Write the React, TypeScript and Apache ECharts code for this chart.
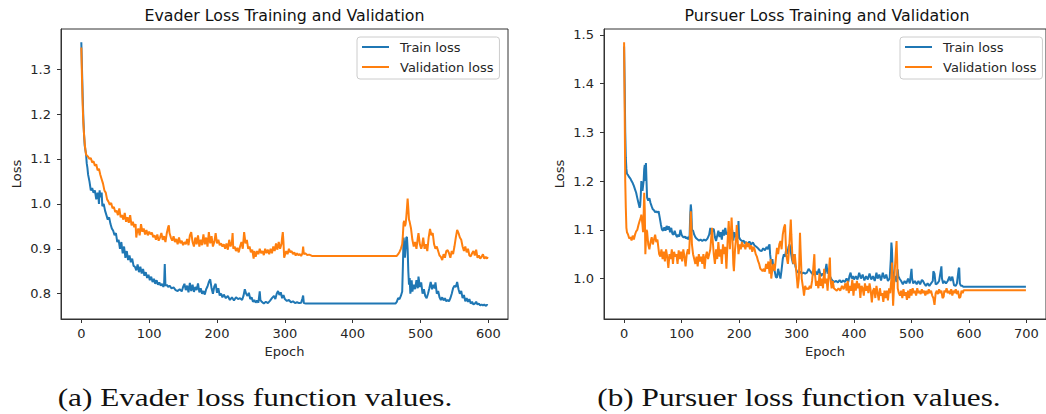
import React, { useEffect, useRef } from "react";
import * as echarts from "echarts";

// ---------------- DATA ----------------
const E_XTICKS = [0, 100, 200, 300, 400, 500, 600];
const E_YTICKS = [0.8, 0.9, 1.0, 1.1, 1.2, 1.3];
const P_XTICKS = [0, 100, 200, 300, 400, 500, 600, 700];
const P_YTICKS = [1.0, 1.1, 1.2, 1.3, 1.4, 1.5];
const SERIES_NAMES = ["Train loss", "Validation loss"];
const TITLES = ["Evader Loss Training and Validation", "Pursuer Loss Training and Validation"];
const CAPTIONS = ["(a) Evader loss function values.", "(b) Pursuer loss function values."];

const E_TRAIN: [number, number][] = [
  [0,1.36],[1,1.30],[2,1.24],[3,1.19],[4,1.155],[5,1.13],[6,1.12],[7,1.11],[8,1.09],[9,1.08],[10,1.065],[12,1.05],[14,1.03],[16,1.035],[18,1.025],[20,1.03],[22,1.01],[24,1.025],[25,1.02],[26,1.0],[27,1.03],[28,1.015],[30,1.025],[31,0.995],[33,1.0],[35,0.985],[37,0.975],[39,0.965],[41,0.97],[43,0.955],[45,0.945],[47,0.94],[49,0.93],[51,0.935],[53,0.915],[55,0.92],[57,0.9],[59,0.915],[61,0.89],[63,0.905],[65,0.88],[67,0.895],[69,0.875],[71,0.885],[73,0.87],[75,0.878],[77,0.862],[79,0.86],[81,0.852],[83,0.865],[85,0.848],[87,0.86],[89,0.845],[91,0.855],[93,0.84],[95,0.848],[97,0.835],[99,0.842],[101,0.83],[103,0.838],[105,0.826],[107,0.833],[109,0.822],[111,0.83],[113,0.82],[115,0.825],[117,0.818],[119,0.822],[121,0.815],[122,0.82],[123,0.866],[124,0.818],[126,0.82],[128,0.815],[130,0.818],[133,0.812],[136,0.814],[139,0.808],[142,0.806],[145,0.81],[148,0.805],[150,0.815],[152,0.822],[154,0.808],[156,0.818],[158,0.803],[160,0.824],[162,0.806],[164,0.82],[166,0.804],[168,0.815],[170,0.808],[172,0.823],[174,0.803],[176,0.812],[178,0.8],[180,0.806],[182,0.798],[184,0.81],[186,0.816],[188,0.826],[190,0.832],[192,0.812],[194,0.8],[196,0.816],[198,0.822],[200,0.802],[202,0.812],[204,0.796],[206,0.8],[208,0.792],[210,0.798],[213,0.79],[216,0.795],[219,0.786],[222,0.792],[225,0.785],[228,0.792],[231,0.788],[234,0.79],[237,0.786],[239,0.795],[241,0.81],[243,0.8],[245,0.795],[247,0.802],[249,0.788],[251,0.792],[253,0.782],[255,0.786],[257,0.78],[259,0.785],[261,0.78],[263,0.805],[264,0.786],[266,0.782],[269,0.778],[272,0.782],[275,0.779],[278,0.784],[281,0.79],[284,0.795],[286,0.788],[288,0.8],[290,0.806],[292,0.797],[294,0.803],[296,0.79],[298,0.797],[300,0.788],[303,0.784],[306,0.786],[309,0.781],[312,0.783],[315,0.779],[318,0.781],[321,0.779],[324,0.78],[326,0.79],[327,0.796],[328,0.779],[331,0.778],[335,0.778],[463,0.778],[465,0.782],[467,0.79],[469,0.788],[471,0.795],[473,0.805],[474,0.86],[475,0.925],[476,0.91],[477,0.88],[478,0.9],[479,0.925],[480,0.926],[481,0.9],[482,0.85],[483,0.82],[484,0.835],[485,0.8],[486,0.81],[487,0.83],[488,0.805],[490,0.82],[492,0.81],[494,0.83],[496,0.812],[497,0.838],[499,0.815],[501,0.825],[503,0.8],[505,0.81],[507,0.795],[509,0.79],[511,0.8],[513,0.812],[515,0.826],[517,0.81],[519,0.82],[521,0.812],[522,0.825],[524,0.8],[526,0.806],[528,0.792],[530,0.786],[532,0.792],[534,0.785],[536,0.79],[538,0.783],[540,0.786],[542,0.783],[544,0.79],[546,0.8],[548,0.812],[550,0.818],[552,0.815],[554,0.826],[556,0.81],[558,0.8],[560,0.806],[562,0.79],[564,0.797],[566,0.783],[568,0.79],[570,0.782],[572,0.788],[574,0.778],[576,0.782],[578,0.776],[580,0.778],[582,0.782],[584,0.776],[586,0.778],[588,0.774],[590,0.776],[592,0.774],[594,0.776],[596,0.773],[598,0.775],[599,0.774]
];

const E_VAL: [number, number][] = [
  [0,1.348],[1,1.28],[2,1.22],[3,1.18],[4,1.155],[5,1.135],[6,1.12],[7,1.11],[8,1.108],[10,1.105],[12,1.1],[14,1.102],[16,1.092],[18,1.095],[20,1.085],[22,1.088],[24,1.075],[26,1.078],[28,1.065],[30,1.055],[32,1.045],[34,1.03],[36,1.025],[38,1.01],[40,1.005],[42,0.998],[44,1.002],[46,0.99],[48,0.993],[50,0.982],[52,0.985],[54,0.975],[56,0.99],[58,0.97],[60,0.975],[62,0.965],[64,0.98],[66,0.96],[68,0.97],[70,0.958],[72,0.975],[74,0.952],[76,0.96],[78,0.948],[80,0.955],[81,0.925],[82,0.935],[84,0.945],[86,0.93],[88,0.955],[90,0.938],[92,0.945],[94,0.932],[96,0.942],[98,0.93],[100,0.938],[102,0.932],[104,0.936],[106,0.926],[108,0.93],[110,0.92],[112,0.932],[114,0.918],[116,0.925],[118,0.935],[120,0.92],[122,0.928],[124,0.915],[126,0.935],[128,0.948],[129,0.952],[130,0.935],[132,0.925],[134,0.918],[136,0.928],[138,0.915],[140,0.922],[142,0.91],[144,0.925],[146,0.912],[148,0.918],[150,0.908],[152,0.915],[154,0.91],[156,0.922],[158,0.908],[160,0.93],[162,0.937],[164,0.915],[166,0.905],[168,0.925],[170,0.91],[172,0.93],[174,0.905],[176,0.92],[178,0.908],[180,0.932],[182,0.91],[184,0.925],[186,0.905],[188,0.937],[190,0.912],[192,0.928],[194,0.905],[196,0.915],[198,0.935],[200,0.912],[202,0.92],[204,0.908],[206,0.912],[208,0.905],[210,0.91],[212,0.9],[214,0.912],[216,0.898],[218,0.92],[220,0.905],[222,0.915],[223,0.935],[224,0.9],[226,0.905],[228,0.895],[230,0.902],[232,0.892],[234,0.905],[236,0.915],[238,0.9],[240,0.937],[242,0.912],[244,0.92],[246,0.9],[248,0.905],[250,0.892],[252,0.898],[254,0.878],[255,0.895],[257,0.882],[259,0.895],[261,0.888],[263,0.9],[265,0.89],[267,0.895],[269,0.886],[271,0.9],[273,0.89],[275,0.898],[277,0.888],[279,0.9],[281,0.89],[283,0.905],[285,0.895],[287,0.912],[289,0.898],[291,0.915],[293,0.9],[295,0.91],[296,0.925],[297,0.937],[298,0.915],[299,0.88],[300,0.885],[302,0.895],[304,0.888],[306,0.9],[308,0.892],[310,0.895],[312,0.888],[314,0.892],[316,0.885],[318,0.89],[320,0.886],[322,0.888],[324,0.884],[326,0.89],[327,0.905],[328,0.888],[330,0.89],[333,0.886],[336,0.887],[340,0.884],[465,0.884],[467,0.888],[469,0.893],[471,0.9],[473,0.91],[474,0.93],[475,0.958],[476,0.962],[477,0.95],[478,0.955],[479,0.97],[480,0.99],[481,1.012],[482,0.99],[483,0.965],[484,0.96],[486,0.945],[488,0.92],[490,0.905],[492,0.915],[494,0.9],[496,0.925],[497,0.935],[499,0.91],[501,0.9],[502,0.905],[504,0.925],[506,0.9],[508,0.91],[510,0.895],[512,0.925],[514,0.944],[516,0.93],[518,0.935],[520,0.91],[522,0.9],[524,0.905],[526,0.895],[528,0.885],[530,0.882],[532,0.875],[534,0.888],[536,0.88],[538,0.895],[540,0.897],[542,0.89],[544,0.88],[546,0.895],[548,0.888],[550,0.905],[552,0.925],[554,0.942],[556,0.935],[558,0.925],[560,0.92],[562,0.905],[564,0.895],[566,0.905],[568,0.892],[570,0.9],[572,0.885],[574,0.883],[576,0.89],[578,0.895],[580,0.885],[582,0.898],[584,0.88],[586,0.885],[588,0.878],[590,0.882],[592,0.888],[594,0.878],[596,0.882],[598,0.878],[599,0.882]
];

const P_TRAIN: [number, number][] = [
  [0,1.476],[1,1.40],[2,1.30],[3,1.248],[4,1.225],[5,1.215],[7,1.212],[9,1.208],[11,1.205],[13,1.2],[15,1.196],[17,1.19],[19,1.183],[21,1.176],[23,1.165],[25,1.155],[27,1.145],[28,1.15],[29,1.17],[30,1.2],[31,1.19],[32,1.18],[33,1.19],[34,1.2],[35,1.225],[36,1.233],[37,1.2],[38,1.237],[39,1.2],[40,1.166],[42,1.16],[44,1.165],[46,1.155],[48,1.148],[50,1.142],[52,1.14],[54,1.136],[56,1.138],[58,1.135],[60,1.138],[62,1.125],[64,1.111],[66,1.1],[68,1.098],[70,1.105],[72,1.098],[74,1.108],[76,1.1],[78,1.107],[80,1.095],[82,1.104],[84,1.092],[86,1.09],[88,1.098],[90,1.09],[92,1.085],[94,1.09],[96,1.086],[98,1.1],[100,1.09],[102,1.086],[104,1.084],[106,1.086],[108,1.082],[110,1.085],[112,1.08],[114,1.088],[115,1.13],[116,1.152],[117,1.14],[118,1.1],[120,1.098],[122,1.09],[124,1.085],[126,1.082],[128,1.08],[130,1.078],[133,1.08],[136,1.077],[139,1.08],[142,1.078],[145,1.082],[148,1.09],[150,1.104],[152,1.09],[154,1.1],[156,1.102],[158,1.085],[160,1.077],[162,1.088],[164,1.098],[166,1.085],[168,1.095],[170,1.08],[172,1.1],[174,1.088],[176,1.104],[178,1.09],[180,1.095],[182,1.08],[184,1.098],[186,1.09],[188,1.1],[190,1.078],[192,1.095],[194,1.085],[196,1.09],[198,1.082],[199,1.118],[200,1.085],[202,1.08],[204,1.078],[206,1.076],[208,1.078],[210,1.072],[212,1.075],[215,1.07],[218,1.076],[221,1.07],[224,1.074],[227,1.068],[230,1.065],[233,1.062],[236,1.058],[239,1.056],[242,1.062],[245,1.058],[248,1.065],[250,1.06],[252,1.068],[253,1.07],[254,1.05],[256,1.03],[258,1.04],[260,1.02],[262,1.015],[264,1.003],[266,1.002],[268,1.02],[270,1.01],[272,1.0],[274,1.018],[276,1.04],[278,1.05],[280,1.045],[282,1.06],[284,1.05],[286,1.065],[288,1.07],[290,1.055],[292,1.04],[294,1.03],[296,1.05],[298,1.025],[300,1.016],[303,1.012],[306,1.014],[309,1.01],[312,1.012],[315,1.01],[318,1.012],[321,1.02],[324,1.015],[327,1.01],[330,1.008],[333,1.015],[336,1.008],[339,1.02],[342,1.005],[345,1.01],[348,1.005],[350,1.015],[352,1.03],[354,1.01],[356,1.02],[358,1.005],[360,1.0],[363,0.995],[366,0.993],[369,0.995],[372,0.992],[375,0.997],[378,0.992],[381,0.996],[384,0.993],[387,1.0],[390,0.993],[392,1.005],[394,1.012],[396,1.0],[398,1.005],[400,0.998],[403,1.005],[406,0.998],[409,1.012],[412,1.0],[415,1.008],[418,0.996],[421,1.005],[424,0.998],[427,1.01],[430,0.998],[433,1.005],[436,0.995],[439,1.012],[441,1.0],[444,1.008],[447,0.996],[450,1.012],[453,1.0],[456,1.008],[459,0.995],[462,1.0],[464,1.04],[465,1.074],[466,1.06],[467,1.02],[469,1.0],[471,1.005],[474,0.993],[476,1.019],[477,1.005],[479,1.0],[482,0.995],[485,0.988],[488,0.995],[491,0.99],[494,1.0],[497,0.99],[499,1.01],[500,1.02],[501,1.0],[503,0.99],[506,0.995],[509,0.988],[512,0.995],[515,0.988],[518,0.997],[520,0.995],[522,0.99],[525,0.985],[528,0.99],[531,0.985],[534,0.99],[537,0.995],[538,1.015],[540,1.01],[542,0.988],[545,0.99],[548,0.995],[550,1.01],[552,1.025],[553,1.0],[555,0.99],[557,0.995],[560,0.99],[563,0.995],[566,1.004],[568,0.995],[571,1.004],[574,0.986],[577,0.985],[579,0.99],[582,1.02],[583,1.022],[584,0.99],[586,0.985],[588,0.985],[590,0.983],[699,0.983]
];

const P_VAL: [number, number][] = [
  [0,1.485],[1,1.35],[2,1.2],[3,1.145],[4,1.104],[5,1.095],[7,1.09],[9,1.082],[11,1.085],[13,1.078],[15,1.088],[17,1.08],[19,1.09],[21,1.097],[23,1.1],[25,1.11],[27,1.118],[29,1.125],[30,1.131],[32,1.11],[33,1.095],[34,1.13],[35,1.176],[36,1.14],[37,1.05],[38,1.08],[39,1.1],[40,1.097],[42,1.07],[44,1.06],[46,1.075],[48,1.085],[50,1.07],[52,1.08],[54,1.09],[56,1.075],[58,1.08],[60,1.06],[61,1.05],[63,1.045],[65,1.06],[67,1.04],[69,1.055],[71,1.035],[73,1.06],[75,1.045],[77,1.022],[79,1.05],[81,1.04],[83,1.06],[85,1.03],[87,1.055],[89,1.045],[91,1.05],[93,1.03],[95,1.058],[97,1.04],[99,1.055],[101,1.035],[103,1.06],[105,1.045],[107,1.025],[109,1.05],[111,1.06],[113,1.05],[115,1.1],[116,1.138],[117,1.11],[118,1.07],[120,1.05],[122,1.04],[124,1.03],[126,1.045],[128,1.025],[130,1.05],[132,1.035],[134,1.045],[136,1.03],[138,1.05],[140,1.02],[142,1.045],[144,1.055],[146,1.04],[148,1.05],[150,1.06],[152,1.09],[153,1.104],[154,1.08],[156,1.05],[158,1.03],[160,1.06],[162,1.04],[164,1.075],[166,1.045],[168,1.06],[170,1.03],[172,1.07],[174,1.05],[176,1.065],[178,1.02],[180,1.075],[182,1.118],[184,1.06],[186,1.1],[187,1.125],[188,1.1],[190,1.03],[191,1.015],[193,1.06],[195,1.085],[196,1.11],[198,1.07],[199,1.05],[201,1.07],[203,1.06],[205,1.075],[207,1.065],[209,1.07],[211,1.06],[213,1.075],[215,1.065],[217,1.072],[219,1.06],[221,1.068],[223,1.055],[225,1.065],[227,1.06],[229,1.05],[231,1.045],[233,1.036],[235,1.03],[237,1.02],[239,1.018],[241,1.015],[243,1.02],[245,1.014],[247,1.03],[249,1.02],[251,1.035],[253,1.01],[255,1.04],[256,1.0],[258,1.02],[260,1.03],[262,1.016],[264,1.04],[266,1.063],[268,1.05],[270,1.07],[272,1.077],[274,1.06],[276,1.09],[278,1.104],[280,1.111],[281,1.08],[282,1.05],[284,1.036],[285,1.03],[287,1.06],[289,1.1],[290,1.121],[291,1.09],[293,1.04],[295,1.03],[297,1.05],[299,1.022],[301,0.995],[302,0.98],[304,1.0],[306,1.094],[307,1.06],[309,1.0],[312,0.975],[313,0.965],[315,0.985],[317,0.978],[319,0.98],[321,0.978],[323,0.985],[325,0.98],[327,0.995],[329,1.02],[331,1.05],[332,1.01],[334,0.985],[336,0.995],[338,0.98],[340,1.01],[342,0.985],[344,1.0],[346,0.98],[348,1.02],[350,0.99],[352,1.0],[354,0.975],[356,1.01],[358,1.043],[359,1.0],[361,0.98],[363,0.995],[365,0.98],[367,0.978],[370,0.975],[373,0.98],[376,0.975],[379,0.985],[382,0.978],[385,0.99],[387,0.975],[389,0.995],[391,0.97],[393,0.985],[395,0.975],[397,0.998],[399,0.965],[401,0.99],[403,0.975],[405,0.995],[407,0.98],[409,0.99],[411,0.96],[413,0.985],[415,0.98],[417,0.965],[419,0.99],[421,0.975],[423,0.985],[425,0.97],[427,0.99],[429,0.975],[431,0.951],[433,0.975],[435,0.98],[437,0.96],[439,0.985],[441,0.97],[443,0.955],[445,0.98],[447,0.965],[449,0.97],[451,0.952],[453,0.975],[455,0.96],[457,0.975],[459,0.955],[461,0.98],[463,0.97],[465,1.0],[466,1.033],[467,0.98],[468,0.944],[469,0.97],[471,1.02],[473,1.06],[474,1.077],[475,1.04],[476,0.98],[478,0.97],[480,0.965],[482,0.975],[484,0.96],[486,0.978],[488,0.965],[490,0.972],[492,0.956],[494,0.975],[496,0.96],[498,0.978],[500,0.965],[502,0.98],[504,0.97],[506,0.975],[508,0.965],[510,0.98],[512,0.97],[514,0.975],[516,0.968],[518,0.978],[520,0.97],[522,0.975],[524,0.965],[526,0.975],[528,0.968],[530,0.978],[532,0.97],[534,0.975],[536,0.965],[538,0.96],[540,0.946],[542,0.97],[544,0.975],[546,0.968],[548,0.978],[550,0.97],[552,0.975],[554,0.96],[556,0.963],[557,0.975],[559,0.972],[561,0.98],[563,0.97],[565,0.975],[567,0.968],[569,0.978],[571,0.965],[573,0.975],[575,0.97],[577,0.978],[579,0.968],[581,0.975],[583,0.96],[585,0.962],[587,0.975],[589,0.97],[591,0.976],[699,0.976]
];

// ---------------- CHART ----------------
const SANS = "'DejaVu Sans', sans-serif";
const SERIF = "'Liberation Serif', 'DejaVu Serif', serif";
const BLUE = "#1f77b4";
const ORANGE = "#ff7f0e";
const INK = "#262626";
const FRAME = "#333333";

function padded(series: [number, number][][], idx: number): [number, number] {
  let lo = Infinity;
  let hi = -Infinity;
  series.forEach((s) => s.forEach((p) => { lo = Math.min(lo, p[idx]); hi = Math.max(hi, p[idx]); }));
  const m = (hi - lo) * 0.05;
  return [lo - m, hi + m];
}

function xAxisCfg(grid: number, ticks: number[], ext: [number, number]) {
  return {
    type: "value",
    gridIndex: grid,
    min: ext[0],
    max: ext[1],
    name: "Epoch",
    nameLocation: "middle",
    nameGap: 26,
    nameTextStyle: { fontFamily: SANS, fontSize: 13, color: INK },
    axisLine: { show: true, onZero: false, lineStyle: { color: FRAME, width: 1 } },
    axisTick: { show: true, length: 4, customValues: ticks, lineStyle: { color: FRAME, width: 1 } },
    axisLabel: { customValues: ticks, fontFamily: SANS, fontSize: 13, color: INK, margin: 8, formatter: (v: number) => String(Math.round(v)) },
    splitLine: { show: false },
  };
}

function yAxisCfg(grid: number, ticks: number[], ext: [number, number]) {
  return {
    type: "value",
    gridIndex: grid,
    min: ext[0],
    max: ext[1],
    name: "Loss",
    nameLocation: "middle",
    nameGap: 38,
    nameRotate: 90,
    nameTextStyle: { fontFamily: SANS, fontSize: 13, color: INK },
    axisLine: { show: true, onZero: false, lineStyle: { color: FRAME, width: 1 } },
    axisTick: { show: true, length: 4, customValues: ticks, lineStyle: { color: FRAME, width: 1 } },
    axisLabel: { customValues: ticks, fontFamily: SANS, fontSize: 13, color: INK, margin: 10, formatter: (v: number) => v.toFixed(1) },
    splitLine: { show: false },
  };
}

function legendCfg(left: number) {
  return {
    left,
    top: 37,
    orient: "vertical",
    data: SERIES_NAMES,
    icon: "rect",
    itemWidth: 27,
    itemHeight: 2,
    itemGap: 6,
    padding: [3, 6, 5, 5],
    backgroundColor: "rgba(255,255,255,0.8)",
    borderColor: "#cccccc",
    borderWidth: 1,
    borderRadius: 3,
    selectedMode: false,
    textStyle: { fontFamily: SANS, fontSize: 13, color: INK, lineHeight: 14, padding: [0, 0, 0, 6] },
  };
}

function lineSeries(name: string, data: [number, number][], color: string, axis: number) {
  return {
    type: "line",
    name,
    data,
    xAxisIndex: axis,
    yAxisIndex: axis,
    showSymbol: false,
    symbol: "none",
    color,
    lineStyle: { color, width: 2 },
    clip: true,
  };
}

export default function App() {
  const ref = useRef<HTMLDivElement>(null);

  useEffect(() => {
    document.body.style.margin = "0";
    if (!ref.current) return;
    const chart = echarts.init(ref.current, undefined, { renderer: "svg" });

    const eX = padded([E_TRAIN, E_VAL], 0);
    const eY = padded([E_TRAIN, E_VAL], 1);
    const pX = padded([P_TRAIN, P_VAL], 0);
    const pY = padded([P_TRAIN, P_VAL], 1);

    const titleText = (text: string, x: number) => ({
      type: "text",
      x,
      y: 15,
      silent: true,
      style: {
        text,
        x: 0,
        y: 0,
        fill: "#111",
        font: `15.8px ${SANS}`,
        align: "center",
        verticalAlign: "middle",
        textAlign: "center",
        textVerticalAlign: "middle",
      },
    });

    const captionText = (text: string, x: number) => ({
      type: "text",
      x,
      y: 398,
      scaleX: 1.25,
      silent: true,
      style: {
        text,
        x: 0,
        y: 0,
        fill: "#111",
        font: `25px ${SERIF}`,
        align: "center",
        verticalAlign: "middle",
        textAlign: "center",
        textVerticalAlign: "middle",
      },
    });

    chart.setOption({
      animation: false,
      backgroundColor: "#ffffff",
      grid: [
        { left: 61, top: 29, width: 447, height: 290, show: true, borderColor: FRAME, borderWidth: 1, backgroundColor: "transparent" },
        { left: 604, top: 29, width: 447, height: 290, show: true, borderColor: FRAME, borderWidth: 1, backgroundColor: "transparent" },
      ],
      xAxis: [xAxisCfg(0, E_XTICKS, eX), xAxisCfg(1, P_XTICKS, pX)],
      yAxis: [yAxisCfg(0, E_YTICKS, eY), yAxisCfg(1, P_YTICKS, pY)],
      legend: [legendCfg(357), legendCfg(900)],
      series: [
        lineSeries(SERIES_NAMES[0], E_TRAIN, BLUE, 0),
        lineSeries(SERIES_NAMES[1], E_VAL, ORANGE, 0),
        lineSeries(SERIES_NAMES[0], P_TRAIN, BLUE, 1),
        lineSeries(SERIES_NAMES[1], P_VAL, ORANGE, 1),
      ],
      graphic: [
        titleText(TITLES[0], 284.5),
        titleText(TITLES[1], 827),
        captionText(CAPTIONS[0], 255),
        captionText(CAPTIONS[1], 799),
      ],
    });

    return () => chart.dispose();
  }, []);

  return <div ref={ref} style={{ position: "absolute", left: 0, top: 0, width: 1046, height: 414 }} />;
}
